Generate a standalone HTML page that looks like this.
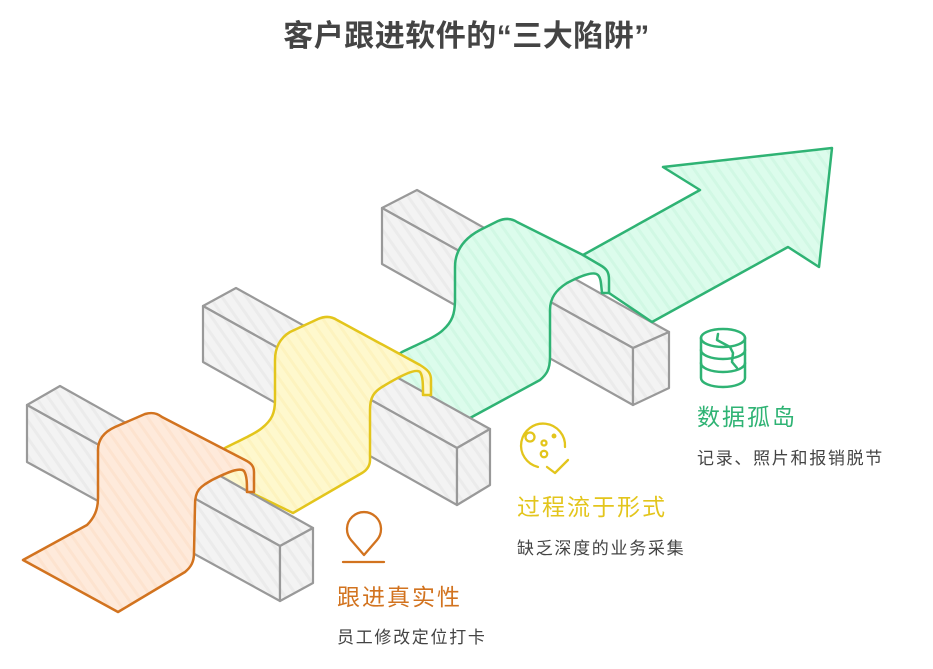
<!DOCTYPE html>
<html><head><meta charset="utf-8"><style>
html,body{margin:0;padding:0;background:#fff;}
body{width:933px;height:669px;overflow:hidden;position:relative;font-family:"Liberation Sans","Noto Sans CJK SC",sans-serif;}
.t{position:absolute;white-space:nowrap;line-height:1;}
</style></head><body>
<svg width="933" height="669" viewBox="0 0 933 669" xmlns="http://www.w3.org/2000/svg" style="position:absolute;left:0;top:0">
<defs>
<pattern id="pg" patternUnits="userSpaceOnUse" width="10" height="10" patternTransform="rotate(-35)"><rect width="10" height="10" fill="#f3f3f3"/><rect width="3" height="10" fill="#ebebeb"/></pattern>
<pattern id="po" patternUnits="userSpaceOnUse" width="10" height="10" patternTransform="rotate(-35)"><rect width="10" height="10" fill="#feeadb"/><rect width="3" height="10" fill="#fde3cf"/></pattern>
<pattern id="py" patternUnits="userSpaceOnUse" width="10" height="10" patternTransform="rotate(-35)"><rect width="10" height="10" fill="#fef8cd"/><rect width="3" height="10" fill="#fdf3bf"/></pattern>
<pattern id="pn" patternUnits="userSpaceOnUse" width="10" height="10" patternTransform="rotate(-35)"><rect width="10" height="10" fill="#dcfcec"/><rect width="3" height="10" fill="#d1f8e4"/></pattern>
</defs>
<g stroke-linejoin="round" stroke-linecap="round">
<g fill="url(#pg)" stroke="#999" stroke-width="2.2">
<path d="M382,208 L417,190 L669,332 L633,348 Z"/>
<path d="M382,208 L633,348 L633,405 L382,264 Z"/>
<path d="M633,348 L669,332 L669,388 L633,405 Z"/>
</g>
<path fill="url(#pn)" stroke="#2fb374" stroke-width="2.5" d="M360,380 L402,352 C425,341 437,336 443,330 C452,322 455,314 455,300 L455,267 C455,250 465,238 480,230 L498,221 C505,218 511,218 517,222 L583,255 L700,190 L663,167 L832,148 L819,267 L788,247 L652,322 L609,293 L602,293 C601,284 601,278 598,275 C594,271 582,275 567,283 C556,290 550,298 550,310 L550,357 C550,370 546,375 540,380 L470,418 L440,450 Z"/>
<path fill="none" stroke="#2fb374" stroke-width="2.5" d="M583,255 L600,265 C607,269 609,272 609,280 L609,293"/>
<g fill="url(#pg)" stroke="#999" stroke-width="2.2">
<path d="M203,306 L236,288 L490,429 L457,448 Z"/>
<path d="M203,306 L457,448 L457,505 L203,362 Z"/>
<path d="M457,448 L490,429 L490,485 L457,505 Z"/>
</g>
<path fill="url(#py)" stroke="#e3c51c" stroke-width="2.5" d="M200,470 L225,448 C245,438 256,433 262,428 C272,420 275,413 275,400 L275,360 C275,348 280,338 290,332 L318,319 C325,316 331,316 337,320 L420,365 C428,370 431,373 431,380 L431,395 L423,395 C423,385 423,376 420,372 C416,368 400,376 382,387 C374,392 370,397 370,410 L370,460 C370,466 367,470 362,473 L293,513 L252,493 Z"/>
<g fill="url(#pg)" stroke="#999" stroke-width="2.2">
<path d="M27,405 L60,386 L313,528 L280,546 Z"/>
<path d="M27,405 L280,546 L280,601 L27,462 Z"/>
<path d="M280,546 L313,528 L313,583 L280,601 Z"/>
</g>
<path fill="url(#po)" stroke="#d2731f" stroke-width="2.5" d="M23,560 L87,525 C94,518 98,510 98,498 L98,450 C98,440 104,432 115,427 L145,414 C152,412 157,413 162,417 L245,460 C251,463 254,466 254,472 L254,492 L247,492 C247,483 247,476 244,471 C240,467 228,472 212,480 C200,487 195,490 195,505 L194,553 C194,562 191,567 185,572 L118,612 Z"/>
<g fill="none" stroke="#2fb374" stroke-width="2.5">
<ellipse cx="723" cy="338" rx="22" ry="9"/>
<path d="M701,338 L701,378 A22,9 0 0 0 745,378 L745,338"/>
<path d="M701,350 A22,9 0 0 0 745,350"/>
<path d="M701,363 A22,9 0 0 0 745,363"/>
<path d="M718,334 L717,340 L730,347 L733,353 L732,362 L737,368"/>
</g>
<g fill="none" stroke="#e3c51c" stroke-width="2.3">
<path d="M538,467 A22,22 0 1 1 565,447"/>
<path d="M547,467 L555,473 L568,460"/>
<circle cx="530" cy="437" r="4.5"/>
<circle cx="544" cy="443" r="2.5"/>
<circle cx="544" cy="454" r="3.2"/>
<circle cx="554" cy="436" r="1.3"/>
</g>
<g fill="none" stroke="#d2731f" stroke-width="2.3">
<path d="M364,555 L351,540 A17,17 0 1 1 377,540 Z"/>
<path d="M343,562 L384,562"/>
</g>
</g>
</svg>
<div class="t" style="left:0;width:933px;text-align:center;top:22px;font-size:30px;font-weight:bold;color:#444;letter-spacing:0.5px;">客户跟进软件的“三大陷阱”</div>
<div class="t" style="left:697px;top:406px;font-size:23px;color:#2fb374;letter-spacing:2px;">数据孤岛</div>
<div class="t" style="left:697px;top:450px;font-size:17px;color:#444;letter-spacing:1.7px;">记录、照片和报销脱节</div>
<div class="t" style="left:517px;top:496px;font-size:23px;color:#e3c51c;letter-spacing:2px;">过程流于形式</div>
<div class="t" style="left:517px;top:540px;font-size:17px;color:#444;letter-spacing:1.7px;">缺乏深度的业务采集</div>
<div class="t" style="left:337px;top:586px;font-size:23px;color:#d2731f;letter-spacing:2px;">跟进真实性</div>
<div class="t" style="left:337px;top:629px;font-size:17px;color:#444;letter-spacing:1.7px;">员工修改定位打卡</div>
</body></html>
